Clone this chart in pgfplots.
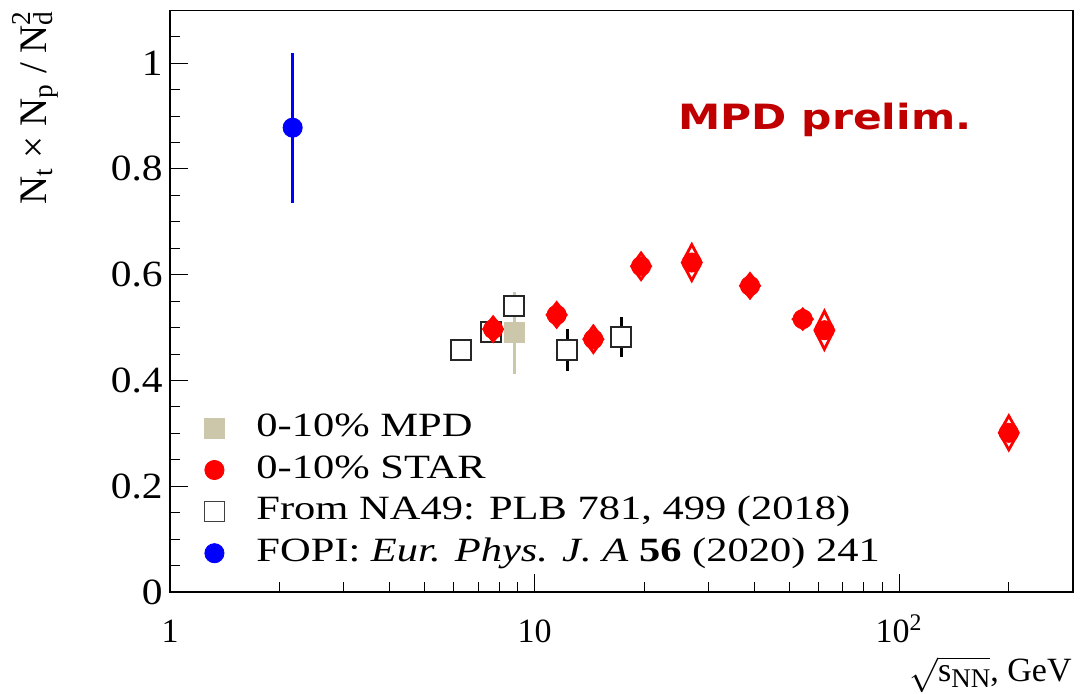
\documentclass[border=0pt]{standalone}
\usepackage{fontspec}
\setmainfont{Liberation Serif}
\newfontfamily\legfont[FakeStretch=1.25]{Liberation Serif}
\newfontfamily\yfont[FakeStretch=1.12]{Liberation Serif}
\newfontfamily\mpdfont[FakeStretch=1.22]{DejaVu Sans}
\usepackage{pgfplots}
\pgfplotsset{compat=1.18}
\usepackage{pgfplotstable}
\definecolor{mpdtan}{RGB}{204,198,170}
\definecolor{mpdred}{RGB}{192,0,0}

\pgfplotstableread{
x y e
7.7 0.497 0.023
11.5 0.524 0.023
14.5 0.478 0.025
19.6 0.616 0.025
27 0.623 0.034
39 0.579 0.023
54.4 0.516 0.019
62.4 0.495 0.036
200 0.301 0.032
}\tabstar

\pgfplotstableread{
x y ey
6.3 0.457 0.015
7.6 0.491 0.015
8.8 0.541 0.025
12.3 0.457 0.040
17.3 0.482 0.038
}\tabna

\pgfplotstableread{
x y ey
8.8 0.490 0.077
}\tabmpd

\pgfplotstableread{
x y ey
2.17 0.878 0.142
}\tabfopi

\begin{document}
\begin{tikzpicture}
\useasboundingbox (0,0) rectangle (543pt,347pt);
\begin{axis}[
  at={(85pt,51pt)}, anchor=south west,
  scale only axis, width=451.5pt, height=290.85pt,
  xmode=log, xmin=1, xmax=300, ymin=0, ymax=1.1,
  axis line style={line width=0.6pt},
  xtick={1,10,100}, xticklabels={1,10,10\textsuperscript{2}},
  minor xtick={2,3,4,5,6,7,8,9,20,30,40,50,60,70,80,90,200},
  ytick={0,0.2,0.4,0.6,0.8,1},
  minor ytick={0.05,0.1,0.15,0.25,0.3,0.35,0.45,0.5,0.55,0.65,0.7,0.75,0.85,0.9,0.95,1.05},
  tick pos=left, tick align=inside,
  major tick length=9pt, minor tick length=5pt,
  tick style={line width=0.5pt, black},
  /pgf/number format/assume math mode=true,
  xticklabel style={font=\fontsize{17}{20}\selectfont, anchor=base, inner sep=0pt, yshift=-25.5pt},
  yticklabel style={font=\yfont\fontsize{18.5}{22}\selectfont, anchor=east, inner sep=0pt, xshift=-3.5pt},
  legend cell align=left,
  legend style={draw=none, fill=none, inner sep=0pt,
    at={(rel axis cs:0.0377,0.3094)}, anchor=north west,
    font=\legfont\fontsize{17}{20}\selectfont,
    nodes={inner sep=0pt, text height=12pt, text depth=4pt},
    row sep=4.8pt, column sep=16pt},
]
% NA49 error bars (below the squares)
\addplot[forget plot, draw=none, mark=none,
  error bars/.cd, y dir=both, y explicit, error mark=none,
  error bar style={draw=black, line width=1.3pt}]
  table[x=x, y=y, y error=ey] {\tabna};
% NA49 squares
\addplot[forget plot, only marks, mark=square*, mark size=5pt,
  mark options={fill=white, draw=black!85, line width=0.9pt}]
  table[x=x, y=y] {\tabna};
% STAR systematic diamonds
\addplot[forget plot, only marks, scatter, mark=diamond, mark size=6.33pt, red, line width=1.4pt,
  visualization depends on={\thisrow{e} \as \err},
  scatter/@pre marker code/.code={\pgfmathsetmacro\ys{\err*41.77}\scope[yscale=\ys, draw=red]},
  scatter/@post marker code/.code={\endscope}]
  table[x=x, y=y] {\tabstar};
% STAR points
\addplot[forget plot, only marks, mark=*, mark size=4.8pt, red, mark options={draw=none, fill=red}]
  table[x=x, y=y] {\tabstar};
% MPD
\addplot[forget plot, only marks, mark=square*, mark size=5pt, mpdtan, mark options={draw=none, fill=mpdtan},
  error bars/.cd, y dir=both, y explicit, error mark=none,
  error bar style={line width=1.4pt, mpdtan}]
  table[x=x, y=y, y error=ey] {\tabmpd};
% FOPI
\addplot[forget plot, only marks, mark=*, mark size=4.8pt, blue, mark options={draw=none, fill=blue},
  error bars/.cd, y dir=both, y explicit, error mark=none,
  error bar style={line width=1.3pt, blue}]
  table[x=x, y=y, y error=ey] {\tabfopi};

\addlegendimage{only marks, mark=square*, mark size=5pt, mpdtan, mark options={draw=none}}
\addlegendentry{0-10\% MPD}
\addlegendimage{only marks, mark=*, mark size=4.8pt, red, mark options={draw=none}}
\addlegendentry{0-10\% STAR}
\addlegendimage{only marks, mark=square, mark size=5pt, black!75, mark options={fill=white, line width=0.7pt}}
\addlegendentry{From NA49: PLB 781, 499 (2018)}
\addlegendimage{only marks, mark=*, mark size=4.8pt, blue, mark options={draw=none}}
\addlegendentry{FOPI: \textit{Eur. Phys. J. A} \textbf{56} (2020) 241}
\end{axis}
\node[rotate=90, anchor=base east, inner sep=0pt, font=\fontsize{19.5}{22}\selectfont]
  at (23pt,342pt) {N\textsubscript{t} × N\textsubscript{p} / N\rlap{\textsubscript{d}}\textsuperscript{2}};
\node[anchor=base east, inner sep=0pt, font=\fontsize{17}{19}\selectfont]
  at (536pt,6.3pt) {$\sqrt{\mbox{s\raisebox{-0.18em}{\fontsize{13.5}{14}\selectfont NN}}}$, GeV};
\node[anchor=base west, inner sep=0pt, text=mpdred, font=\mpdfont\bfseries\fontsize{17.4}{20}\selectfont]
  at (339pt,282pt) {MPD prelim.};
\end{tikzpicture}
\end{document}
